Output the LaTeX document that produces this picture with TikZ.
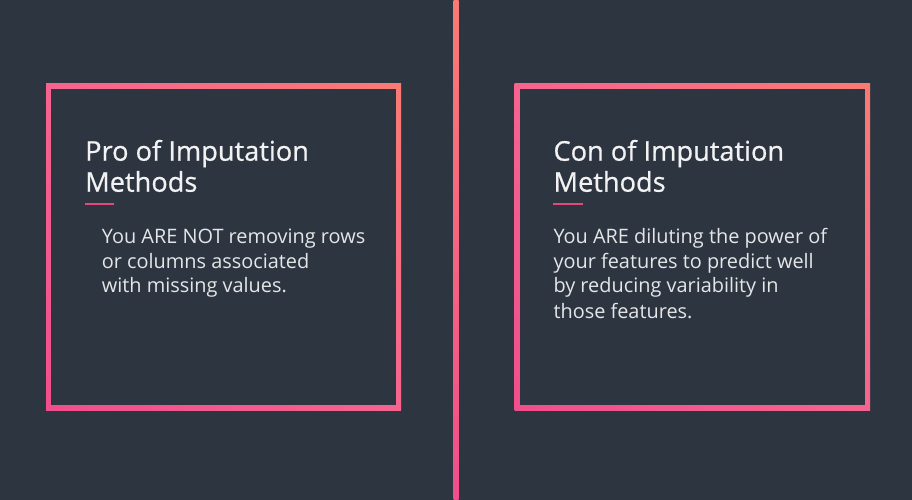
\documentclass[tikz,border=0pt]{standalone}
\usepackage{fontspec}
\usetikzlibrary{shadings}
\setmainfont{Open Sans}
\newfontfamily\headfont[FakeBold=0.7]{Open Sans}
\definecolor{bg}{HTML}{2D3540}
\definecolor{salmon}{HTML}{F97B74}
\definecolor{pinkc}{HTML}{F04E8C}
\definecolor{midc}{HTML}{F5648F}
\definecolor{headc}{HTML}{F2F2F2}
\definecolor{bodyc}{HTML}{E4E6E8}
\definecolor{accent}{HTML}{E5487A}
\tikzset{
  head/.style={anchor=base west, inner sep=0pt, text=headc, font=\headfont\fontsize{27.2}{31}\selectfont},
  bodytxt/.style={anchor=base west, inner sep=0pt, text=bodyc, font=\fontsize{19.9}{25}\selectfont},
  frameshade/.style={lower left=pinkc, upper right=salmon, upper left=midc, lower right=midc},
  accentline/.style={accent, line width=2pt}
}
\begin{document}
\begin{tikzpicture}[x=1pt,y=-1pt]
\useasboundingbox (0,0) rectangle (912,500);
\fill[bg] (0,0) rectangle (912,500);
% divider
\shade[top color=salmon, bottom color=pinkc] (453.5,0) rectangle (458.5,500);
% left frame
\shade[frameshade] (46,84) rectangle (401,410);
\fill[bg] (51,89) rectangle (396,405);
% right frame
\shade[frameshade] (514.5,84) rectangle (870,410);
\fill[bg] (519.5,89) rectangle (865,405);
% left texts
\node[head] (lh1) at (85,160.7) {Pro of Imputation};
\node[head] (lh2) at (85,191.7) {Methods};
\coordinate (la1) at (85,204);
\coordinate (la2) at (114,204);
\draw[accentline] (la1) -- (la2);
\node[bodytxt] (lb1) at (101.7,243.3) {You ARE NOT removing rows};
\node[bodytxt] (lb2) at (101.7,268.3) {or columns associated};
\node[bodytxt] (lb3) at (101.7,292.7) {with missing values.};
% right texts
\node[head] (rh1) at (553.3,160.7) {Con of Imputation};
\node[head] (rh2) at (553.3,191.7) {Methods};
\coordinate (ra1) at (553.3,204);
\coordinate (ra2) at (582.5,204);
\draw[accentline] (ra1) -- (ra2);
\node[bodytxt] (rb1) at (553.3,243.3) {You ARE diluting the power of};
\node[bodytxt] (rb2) at (553.3,268.3) {your features to predict well};
\node[bodytxt] (rb3) at (553.3,292.7) {by reducing variability in};
\node[bodytxt] (rb4) at (553.3,318.3) {those features.};
\end{tikzpicture}
\end{document}
